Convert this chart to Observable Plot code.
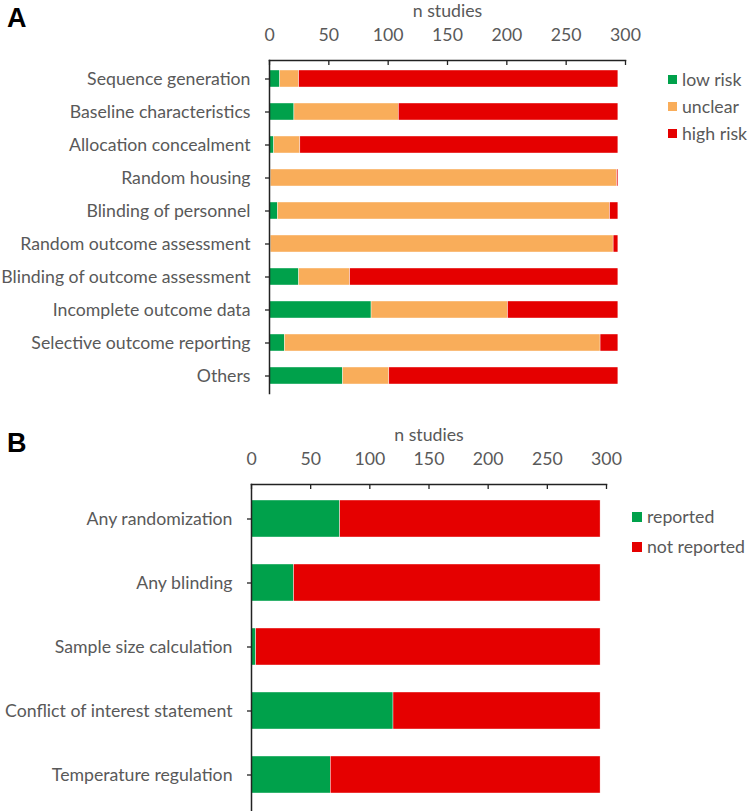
<!DOCTYPE html>
<html>
<head>
<meta charset="utf-8">
<script src="https://cdn.jsdelivr.net/npm/d3@7"></script>
<script src="https://cdn.jsdelivr.net/npm/@observablehq/plot@0.6"></script>
<style>
  body { margin: 0; background: #fff; }
  #wrap { position: relative; width: 750px; height: 811px; font-family: Lato, "Open Sans", sans-serif; color: #595959; }
  .panel { position: absolute; left: 0; }
  .plabel { position: absolute; font-family: "Liberation Sans", Arial, sans-serif; font-weight: bold; font-size: 27px; color: #000; line-height: 1; }
  .legend { position: absolute; font-size: 17.7px; }
  .legend .item { position: absolute; white-space: nowrap; display: flex; align-items: center; }
  .legend .sw { display: inline-block; margin-right: 5px; }
</style>
</head>
<body>
<div id="wrap"></div>
<script>
// ---------- Data ----------
const catsA = [
  "Sequence generation",
  "Baseline characteristics",
  "Allocation concealment",
  "Random housing",
  "Blinding of personnel",
  "Random outcome assessment",
  "Blinding of outcome assessment",
  "Incomplete outcome data",
  "Selective outcome reporting",
  "Others"
];
const riskLevels = ["low risk", "unclear", "high risk"];
const riskColors = ["#00A14B", "#F9AD5A", "#E50000"];
const lowRisk  = [9, 21, 4, 1, 7, 1, 25, 86, 13, 62];
const unclear  = [16, 88, 22, 292, 280, 289, 43, 115, 266, 39];
const highRisk = [269, 185, 268, 1, 7, 4, 226, 93, 15, 193];

const catsB = [
  "Any randomization",
  "Any blinding",
  "Sample size calculation",
  "Conflict of interest statement",
  "Temperature regulation"
];
const reportLevels = ["reported", "not reported"];
const reportColors = ["#00A14B", "#E50000"];
const reported    = [75, 36, 4, 120, 67];
const notReported = [220, 259, 291, 175, 228];

const xTicks = [0, 50, 100, 150, 200, 250, 300];
const axisTitle = "n studies";

// ---------- Tables ----------
const seriesA = [lowRisk, unclear, highRisk];
const rowsA = catsA.flatMap((c, i) => riskLevels.map((s, j) => ({cat: c, status: s, n: seriesA[j][i]})));
const seriesB = [reported, notReported];
const rowsB = catsB.flatMap((c, i) => reportLevels.map((s, j) => ({cat: c, status: s, n: seriesB[j][i]})));

const wrap = document.getElementById("wrap");

function panel({rows, cats, levels, colors, top, height, mLeft, mRight, mTop, mBottom, pInner, pOuter}) {
  const innerH = height - mTop - mBottom;
  const chart = Plot.plot({
    width: 750,
    height,
    marginLeft: mLeft,
    marginRight: mRight,
    marginTop: mTop,
    marginBottom: mBottom,
    style: {fontFamily: "Lato, 'Open Sans', sans-serif", fontSize: "17.7px", color: "#595959", background: "transparent", overflow: "visible"},
    x: {domain: [0, 300], axis: null},
    y: {domain: cats, paddingInner: pInner, paddingOuter: pOuter, axis: null},
    color: {domain: levels, range: colors},
    marks: [
      Plot.barX(rows, Plot.stackX({y: "cat", x: "n", fill: "status", order: levels, stroke: "white", strokeWidth: 0.4})),
      Plot.ruleX(xTicks, {x: d => d, stroke: "#222", strokeWidth: 1.3, insetBottom: innerH - 5}),
      Plot.axisX({anchor: "top", ticks: xTicks, tickSize: 0, tickPadding: 20, label: null, fill: "#595959"}),
      Plot.axisY({anchor: "left", tickSize: 4, tickPadding: 15, label: null, stroke: "#222", strokeWidth: 1.3, fill: "#595959"}),
      Plot.frame({anchor: "top", stroke: "#222", strokeWidth: 1.5}),
      Plot.frame({anchor: "left", stroke: "#222", strokeWidth: 1.5}),
      Plot.text([axisTitle], {frameAnchor: "top", lineAnchor: "middle", dy: -49, fill: "#595959"})
    ]
  });
  chart.classList.add("panel");
  chart.style.top = top + "px";
  wrap.appendChild(chart);
}

panel({rows: rowsA, cats: catsA, levels: riskLevels, colors: riskColors,
  top: 0, height: 400, mLeft: 269, mRight: 125, mTop: 60, mBottom: 7, pInner: 0.5, pOuter: 0.25});
panel({rows: rowsB, cats: catsB, levels: reportLevels, colors: reportColors,
  top: 420, height: 391, mLeft: 251, mRight: 144, mTop: 64, mBottom: 1, pInner: 0.42, pOuter: 0.22});

// panel letters
function letter(t, x, y) {
  const d = document.createElement("div");
  d.className = "plabel"; d.textContent = t;
  d.style.left = x + "px"; d.style.top = y + "px";
  wrap.appendChild(d);
}
letter("A", 7, 5);
letter("B", 7, 430);

// legends
function legend(levels, colors, left, top, gap, sw) {
  const lg = document.createElement("div");
  lg.className = "legend";
  lg.style.left = left + "px"; lg.style.top = top + "px";
  levels.forEach((l, i) => {
    const it = document.createElement("div");
    it.className = "item";
    it.style.top = (i * gap) + "px";
    const s = document.createElement("span");
    s.className = "sw";
    s.style.width = sw + "px"; s.style.height = sw + "px"; s.style.background = colors[i];
    const t = document.createElement("span");
    t.textContent = l;
    it.appendChild(s); it.appendChild(t);
    lg.appendChild(it);
  });
  wrap.appendChild(lg);
}
legend(riskLevels, riskColors, 668, 69, 27, 9);
legend(reportLevels, reportColors, 632, 506, 30, 10);
</script>
</body>
</html>
